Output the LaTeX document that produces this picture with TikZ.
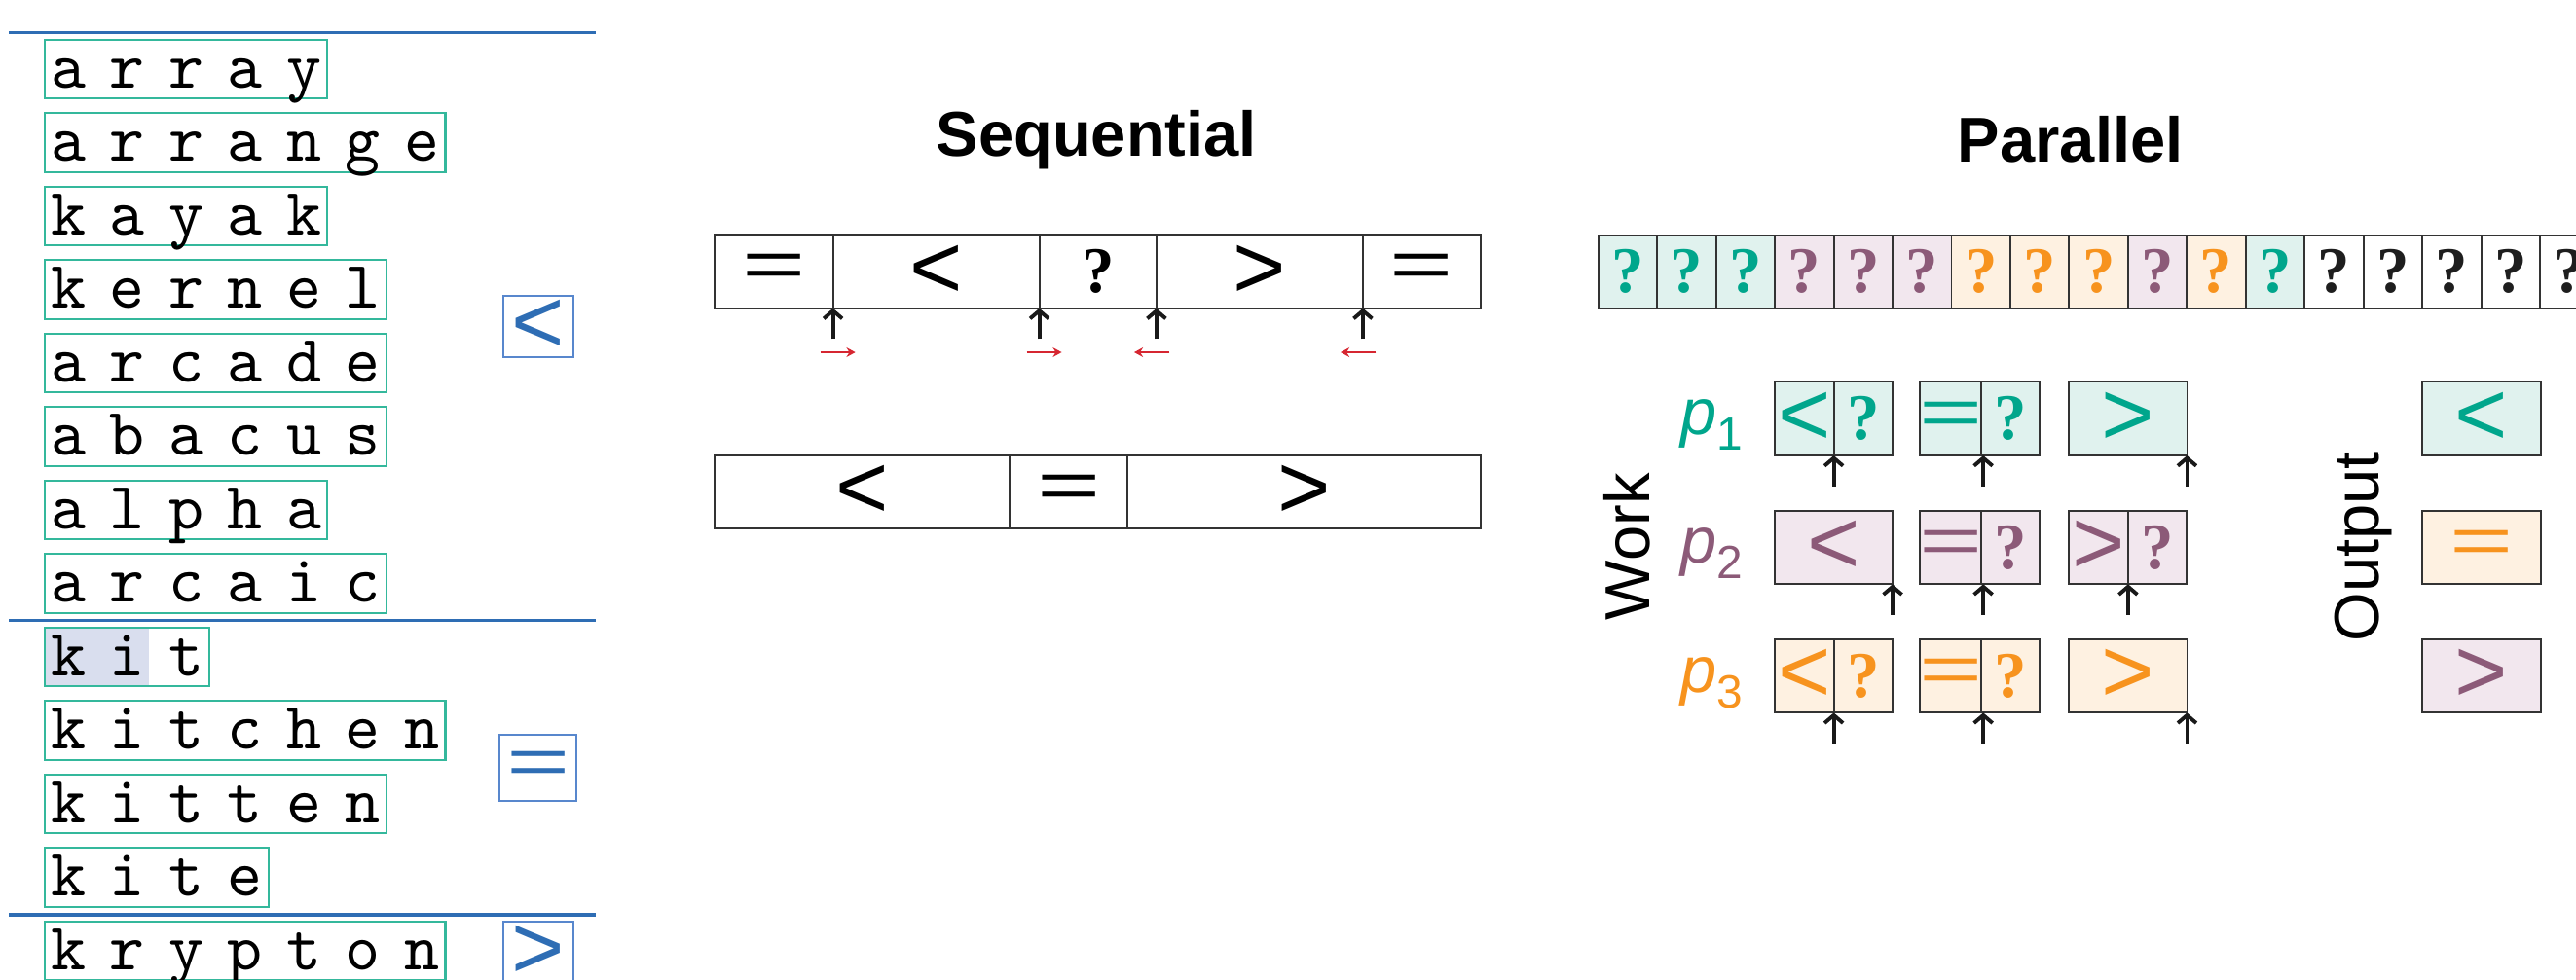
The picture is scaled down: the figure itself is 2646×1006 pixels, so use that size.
\documentclass[tikz,border=0pt]{standalone}
\usepackage{graphicx}
\usepackage{fontspec}
\setmainfont{Liberation Sans}
\newfontfamily\qmarkfont{Liberation Serif}
\newfontfamily\wordtt{lmmono10-regular.otf}
\usetikzlibrary{arrows.meta,calc}

\definecolor{rulebl}{RGB}{46,109,180}
\definecolor{boxbl}{RGB}{88,135,205}
\definecolor{wordtl}{RGB}{52,184,156}
\definecolor{hilite}{RGB}{217,222,238}
\definecolor{tealfg}{RGB}{0,166,140}
\definecolor{tealbg}{RGB}{224,242,238}
\definecolor{plumfg}{RGB}{140,90,120}
\definecolor{plumbg}{RGB}{242,231,238}
\definecolor{orgfg}{RGB}{247,147,30}
\definecolor{orgbg}{RGB}{254,241,225}
\definecolor{nonefg}{RGB}{30,30,30}
\definecolor{nonebg}{RGB}{255,255,255}
\definecolor{arrred}{RGB}{214,38,49}

% comparison symbols and the unknown mark
\newcommand\symsize{\fontsize{26.5}{27}\selectfont}
\newcommand\ltsym{{\symsize <}}
\newcommand\gtsym{{\symsize >}}
\newcommand\eqsym{{\symsize\scalebox{1.2}[0.75]{=}}}
\newcommand\qsym{{\qmarkfont\bfseries\fontsize{19}{20}\selectfont ?}}
% spaced-out typewriter letters of the sorted words
\newcommand\wordfont{\wordtt\fontsize{19.5}{21}\selectfont\spaceskip=6.97pt\relax}

\begin{document}
\begin{tikzpicture}[x=0.01cm, y=-0.01cm,
  rule/.style={draw=rulebl, line width=1pt},
  wordbox/.style={draw=wordtl, line width=0.6pt, anchor=west, inner xsep=0.063cm,
    inner ysep=0pt, text height=0.4925cm, text depth=0.1125cm, font=\wordfont},
  symbox/.style={draw=boxbl, line width=0.5pt, text=rulebl, inner sep=0pt},
  cell/.style={draw=black!80, line width=0.55pt, inner sep=0pt, outer sep=0pt,
    minimum height=0.757cm},
  half/.style={minimum width=0.605cm},
  whole/.style={minimum width=1.21cm},
  tw/.style={cell, fill=tealbg, text=tealfg},
  pw/.style={cell, fill=plumbg, text=plumfg},
  ow/.style={cell, fill=orgbg, text=orgfg},
  ptr/.style={draw=black!90, line width=1.1pt, -{Straight Barb[length=2.3pt,width=5.4pt]}},
  redptr/.style={draw=arrred, line width=0.6pt, -{Stealth[length=2.6pt,width=2.8pt]}},
  title/.style={font=\bfseries\fontsize{18.5}{20}\selectfont, anchor=base, inner sep=0pt},
  side/.style={font=\fontsize{18.5}{20}\selectfont, rotate=90, inner sep=0pt},
  plabel/.style={anchor=base west, inner sep=0pt, font=\fontsize{19}{20}\selectfont}
]
\clip (0,0) rectangle (2646,1006);
\fill[white] (0,0) rectangle (2646,1006);

% ---------- sorted word list ----------
\draw[rule] (9,33.3) -- (612,33.3);
\draw[rule] (9,637.7) -- (612,637.7);
\draw[rule] (9,940) -- (612,940);
\fill[hilite] (44.7,644.75) rectangle (153.4,705.25);
\foreach \w [count=\i from 0] in {a r r a y,a r r a n g e,k a y a k,k e r n e l,a r c a d e,a b a c u s,a l p h a,a r c a i c,k i t,k i t c h e n,k i t t e n,k i t e,k r y p t o n}
  \node[wordbox] (word\i) at (44.7,{71+75.5*\i}) {\w};
\node[symbox, minimum width=0.72cm, minimum height=0.63cm] (lt) at (553,335.6) {\ltsym};
\node[symbox, minimum width=0.79cm, minimum height=0.68cm] (eq) at (552.7,789.2) {\eqsym};
\node[symbox, minimum width=0.72cm, minimum height=0.63cm] (gt) at (553,978.2) {\gtsym};

% ---------- sequential partition ----------
\node[title] (seqt) at (1126.4,160.7) {Sequential};
\node[cell, minimum width=1.214cm] (s1) at (794.9,278.85) {\eqsym};
\node[cell, minimum width=2.119cm] (s2) at (961.55,278.85) {\ltsym};
\node[cell, minimum width=1.204cm] (s3) at (1127.7,278.85) {\qsym};
\node[cell, minimum width=2.12cm] (s4) at (1293.9,278.85) {\gtsym};
\node[cell, minimum width=1.214cm] (s5) at (1460.6,278.85) {\eqsym};
\foreach \n in {s1,s2,s3,s4} {
  \coordinate (\n-tail) at ($(\n.south east)+(0,31.6)$);
  \draw[ptr] (\n-tail) -- (\n.south east);
}
\coordinate (r1a) at ($(s1.south east)+(-13,45.3)$);
\coordinate (r1b) at ($(s1.south east)+(23,45.3)$);
\coordinate (r2a) at ($(s2.south east)+(-13,45.3)$);
\coordinate (r2b) at ($(s2.south east)+(23,45.3)$);
\coordinate (r3a) at ($(s3.south east)+(13.5,45.3)$);
\coordinate (r3b) at ($(s3.south east)+(-23,45.3)$);
\coordinate (r4a) at ($(s4.south east)+(13.5,45.3)$);
\coordinate (r4b) at ($(s4.south east)+(-23,45.3)$);
\foreach \k in {1,2,3,4} \draw[redptr] (r\k a) -- (r\k b);

\node[cell, minimum width=3.03cm] (b1) at (885.7,505.5) {\ltsym};
\node[cell, minimum width=1.209cm] (b2) at (1097.65,505.5) {\eqsym};
\node[cell, minimum width=3.632cm] (b3) at (1339.7,505.5) {\gtsym};

% ---------- parallel partition ----------
\node[title] (part) at (2126.7,166) {Parallel};
\foreach \c [count=\k from 0] in {teal,teal,teal,plum,plum,plum,org,org,org,plum,org,teal,none,none,none,none,none}
  \node[cell, fill=\c bg, text=\c fg, minimum width=0.6048cm, minimum height=0.75cm]
    (q\k) at ({1671.84+60.48*\k},279) {\qsym};

\node[side] (work) at (1671,561.7) {Work};
\node[plabel, text=tealfg] (p1) at (1726,446.7) {\textit{p}\raisebox{-4.55pt}{\fontsize{13.6}{14}\selectfont 1}};
\node[plabel, text=plumfg] (p2) at (1726,578.9) {\textit{p}\raisebox{-4.55pt}{\fontsize{13.6}{14}\selectfont 2}};
\node[plabel, text=orgfg] (p3) at (1726,711.0) {\textit{p}\raisebox{-4.55pt}{\fontsize{13.6}{14}\selectfont 3}};

% p1
\node[tw, half] (a1l) at (1853.3,430.2) {\ltsym};
\node[tw, half] (a1r) at (1913.8,430.2) {\qsym};
\node[tw, half] (b1l) at (2004.5,430.2) {\eqsym};
\node[tw, half] (b1r) at (2065.0,430.2) {\qsym};
\node[tw, whole] (c1) at (2185.9,430.2) {\gtsym};
% p2
\node[pw, whole] (a2) at (1883.5,562.4) {\ltsym};
\node[pw, half] (b2l) at (2004.5,562.4) {\eqsym};
\node[pw, half] (b2r) at (2065.0,562.4) {\qsym};
\node[pw, half] (c2l) at (2155.65,562.4) {\gtsym};
\node[pw, half] (c2r) at (2216.15,562.4) {\qsym};
% p3
\node[ow, half] (a3l) at (1853.3,694.5) {\ltsym};
\node[ow, half] (a3r) at (1913.8,694.5) {\qsym};
\node[ow, half] (b3l) at (2004.5,694.5) {\eqsym};
\node[ow, half] (b3r) at (2065.0,694.5) {\qsym};
\node[ow, whole] (c3) at (2185.9,694.5) {\gtsym};

\foreach \n in {a1l,b1l,c1,a2,b2l,c2l,a3l,b3l,c3} {
  \coordinate (\n-tail) at ($(\n.south east)+(0,31.5)$);
  \draw[ptr] (\n-tail) -- (\n.south east);
}

% output blocks
\node[side] (outl) at (2427.5,561.7) {Output};
\node[tw, minimum width=1.214cm] (o1) at (2549,430.2) {\ltsym};
\node[ow, minimum width=1.214cm] (o2) at (2549,562.4) {\eqsym};
\node[pw, minimum width=1.214cm] (o3) at (2549,694.5) {\gtsym};
\end{tikzpicture}
\end{document}
